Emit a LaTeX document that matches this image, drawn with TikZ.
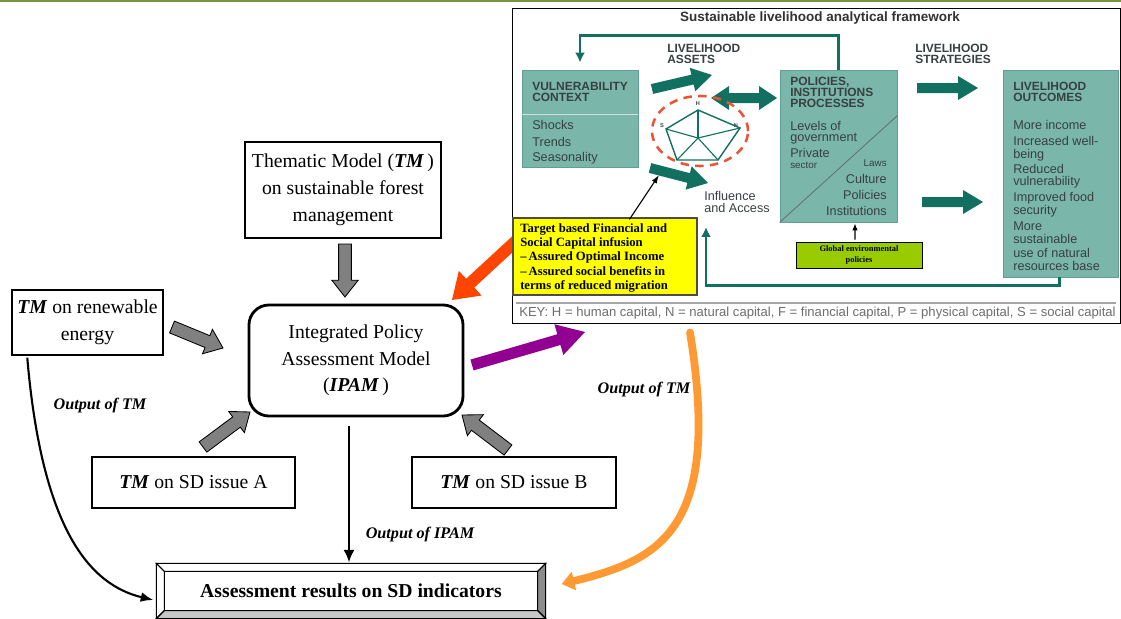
\documentclass[tikz,border=0pt]{standalone}
\usepackage{fontspec}
\setmainfont{Liberation Serif}
\setsansfont{Liberation Sans}
\usetikzlibrary{calc,arrows.meta}

\definecolor{topgreen}{RGB}{119,147,60}
\definecolor{slteal}{RGB}{122,182,170}
\definecolor{slborder}{RGB}{96,160,148}
\definecolor{sldark}{RGB}{18,112,96}
\definecolor{sltext}{RGB}{55,65,65}
\definecolor{slkey}{RGB}{110,110,110}
\definecolor{sldash}{RGB}{232,84,52}
\definecolor{infusionyellow}{RGB}{255,255,0}
\definecolor{globalgreen}{RGB}{153,204,0}
\definecolor{redarrow}{RGB}{255,69,0}
\definecolor{purplearrow}{RGB}{145,0,145}
\definecolor{orangecurve}{RGB}{255,153,51}
\definecolor{arrowgray}{RGB}{128,128,128}

% block arrow: [style]{from}{to}{half shaft}{half head}{head length}
\newcommand{\fatarrow}[6][]{%
  \path ($(#3)!#6!(#2)$) coordinate (faneck);
  \path[#1] ($(#2)!#4!90:(#3)$) -- ($(faneck)!#4!90:(#3)$)
    -- ($(faneck)!#5!90:(#3)$) -- (#3)
    -- ($(faneck)!#5!-90:(#3)$) -- ($(faneck)!#4!-90:(#3)$)
    -- ($(#2)!#4!-90:(#3)$) -- cycle;
}

\newcommand{\mainfs}{\fontsize{14}{19}\selectfont}
\newcommand{\outfs}{\fontsize{11.5}{14}\selectfont\bfseries\itshape}
\newcommand{\slhead}{\sffamily\bfseries\fontsize{8.5}{7.8}\selectfont}
\newcommand{\slbody}{\sffamily\fontsize{9}{10}\selectfont}
\newcommand{\tmb}{\textbf{\textit{TM}}}

\begin{document}
\begin{tikzpicture}[x=0.025cm,y=-0.025cm,>=latex,
  tmbox/.style={draw=black, line width=1pt, fill=white, align=center, font=\mainfs, inner sep=0pt},
  grayarrow/.style={fill=arrowgray, draw=black, line width=0.6pt},
  slbox/.style={fill=slteal, draw=slborder, line width=0.6pt, inner sep=0pt},
  slline/.style={draw=sldark, line width=1.8pt},
  sltxt/.style={font=\slbody, text=sltext, inner sep=0pt},
  slhd/.style={font=\slhead, text=sltext, inner sep=0pt, align=left},
  outlabel/.style={font=\outfs, inner sep=0pt}]

\useasboundingbox (0,0) rectangle (1121,619);

% Top rule
\draw[topgreen, line width=1.6pt] (0,1.2) -- (1121,1.2);

% Red arrow (tail under the framework)
\coordinate (redA) at (530,228);
\coordinate (redB) at (452,300);
\fatarrow[fill=redarrow]{redA}{redB}{0.15cm}{0.42cm}{0.62cm}

% Framework frame
\node[draw=black, fill=white, line width=0.6pt, minimum width=15.2cm, minimum height=7.875cm, inner sep=0pt] (slf) at (816,165.5) {};
\node[font=\sffamily\bfseries\fontsize{9.6}{10}\selectfont, text=black!80, inner sep=0pt] (sltitle) at (820,18) {Sustainable livelihood analytical framework};

% Teal boxes
\node[slbox, minimum width=2.9cm, minimum height=2.425cm] (vuln) at (580,118.5) {};
\node[slbox, minimum width=2.925cm, minimum height=3.8cm] (pol) at (838.5,146) {};
\node[slbox, minimum width=2.875cm, minimum height=5.175cm] (outc) at (1060.5,173.5) {};
\draw[white!60!slteal, line width=0.8pt] ($(vuln.north west)+(0,45)$) -- ($(vuln.north east)+(0,45)$);
\draw[sltext!80, line width=0.5pt] ($(pol.north east)+(0,46)$) -- (pol.south west);

% Headers
\node[slhd, anchor=west] (assets) at (667,54) {LIVELIHOOD\\ASSETS};
\node[slhd, anchor=west] (strat) at (915,54) {LIVELIHOOD\\STRATEGIES};
\node[slhd, anchor=west] (vulnhd) at (532,92) {VULNERABILITY\\CONTEXT};
\node[slhd, anchor=west] (polhd) at (790,92) {POLICIES,\\INSTITUTIONS\\PROCESSES};
\node[slhd, anchor=west] (outhd) at (1013,92) {LIVELIHOOD\\OUTCOMES};

% Box lists
\foreach \txt/\yy in {Shocks/125, Trends/142, Seasonality/158}
  \node[sltxt, anchor=west] (vc\yy) at (532,\yy) {\txt};
\foreach \txt/\yy in {Levels of/126, government/139, Private/153}
  \node[sltxt, anchor=west] (pl\yy) at (790,\yy) {\txt};
\node[sltxt, anchor=west, font=\sffamily\fontsize{7}{8}\selectfont] (pl165) at (790,165) {sector};
\node[sltxt, anchor=east, font=\sffamily\fontsize{7}{8}\selectfont] (pr163) at (887,163) {Laws};
\foreach \txt/\yy in {Culture/179, Policies/195, Institutions/211}
  \node[sltxt, anchor=east] (pr\yy) at (887,\yy) {\txt};
\foreach \txt/\yy in {More income/125, Increased well-/141, being/155, Reduced/169, vulnerability/182, Improved food/198, security/211, More/226, sustainable/239, use of natural/253, resources base/266}
  \node[sltxt, anchor=west] (oc\yy) at (1013,\yy) {\txt};
\node[sltxt, anchor=west, align=left, font=\sffamily\fontsize{9}{8.8}\selectfont] (infl) at (704,202) {Influence\\and Access};

% Feedback lines
\coordinate (inflarrow) at (706,227);
\draw[slline, -{Latex[length=7pt,width=7pt]}] (pol.north) -- ++(0,-34) -| ($(vuln.north)+(0,-7)$);
\draw[slline, -{Latex[length=7pt,width=7pt]}] ($(outc.south west)+(57,0)$) -- ++(0,8) -| (inflarrow);

% Teal block arrows
\coordinate (upA) at (652,89); \coordinate (upB) at (712,75);
\coordinate (dblM) at (744,98); \coordinate (dblL) at (711,98); \coordinate (dblR) at (777,98);
\coordinate (loA) at (650,168); \coordinate (loB) at (708,183);
\coordinate (stA) at (917,88); \coordinate (stB) at (978,88);
\coordinate (snA) at (922,202); \coordinate (snB) at (983,202);
\fatarrow[fill=sldark]{upA}{upB}{0.125cm}{0.3cm}{0.5cm}
\fatarrow[fill=sldark]{dblM}{dblL}{0.125cm}{0.3cm}{0.45cm}
\fatarrow[fill=sldark]{dblM}{dblR}{0.125cm}{0.3cm}{0.45cm}
\fatarrow[fill=sldark]{loA}{loB}{0.125cm}{0.3cm}{0.5cm}
\fatarrow[fill=sldark]{stA}{stB}{0.125cm}{0.3cm}{0.5cm}
\fatarrow[fill=sldark]{snA}{snB}{0.125cm}{0.3cm}{0.5cm}

% Asset pentagon
\draw[sldash, line width=1.8pt, dash pattern=on 6pt off 4.5pt] (700,131) ellipse [x radius=1.2cm, y radius=0.875cm];
\draw[sldark, line width=1pt] (698,110) -- (740,128) -- (718,160) -- (677,160) -- (666,129) -- cycle;
\foreach \p in {(698,110),(740,128),(718,160),(677,160),(666,129)}
  \draw[sldark, line width=0.8pt] (698,138) -- \p;
\node[font=\sffamily\bfseries\fontsize{4}{4}\selectfont, text=sltext, inner sep=0pt] (capH) at (698,104) {H};
\node[font=\sffamily\bfseries\fontsize{4}{4}\selectfont, text=sltext, inner sep=0pt] (capS) at (662,126) {S};
\node[font=\sffamily\bfseries\fontsize{4}{4}\selectfont, text=sltext, inner sep=0pt] (capN) at (736,126) {N};

% Infusion box
\node[draw=black!70, fill=infusionyellow, line width=0.8pt, minimum width=4.6cm, minimum height=1.925cm, inner sep=0pt] (infusion) at (605,256.5) {};
\node[font=\bfseries\fontsize{9}{10}\selectfont, align=left, anchor=west, inner sep=0pt] (infusiontxt) at (520,258) {Target based Financial and\\Social Capital infusion\\--\,Assured Optimal Income\\--\,Assured social benefits in\\terms of reduced migration};
\coordinate (pentF) at (659,175);
\draw[-{Latex[length=6pt,width=4pt]}, line width=0.8pt] ($(infusion.north west)+(117,2)$) -- (pentF);

% Global policies
\node[draw=black, fill=globalgreen, line width=0.6pt, minimum width=3.15cm, minimum height=0.65cm, inner sep=0pt, align=center, font=\bfseries\fontsize{6}{8}\selectfont] (global) at (859,255) {Global environmental\\policies};
\draw[-{Latex[length=5pt,width=4pt]}, line width=0.8pt] ($(global.north)+(-4,-2)$) -- ($(pol.south)+(16.5,1)$);

% Key
\draw[black!35, line width=0.8pt] (516,303) -- (1116,303);
\node[font=\sffamily\fontsize{9.3}{10}\selectfont, text=slkey, anchor=west, inner sep=0pt] (slkeytxt) at (519,313) {KEY: H = human capital, N = natural capital, F = financial capital, P = physical capital, S = social capital};

% Thematic models
\node[tmbox, minimum width=4.9cm, minimum height=2.4cm] (thematic) at (343,190) {Thematic Model (\tmb\,)\\on sustainable forest\\management};
\node[tmbox, minimum width=3.775cm, minimum height=1.625cm] (renew) at (87.5,322.5) {\tmb{} on renewable\\energy};
\node[tmbox, minimum width=5.075cm, minimum height=1.275cm] (sdA) at (193.5,482.5) {\tmb{} on SD issue A};
\node[tmbox, minimum width=5.1cm, minimum height=1.275cm] (sdB) at (514,482.5) {\tmb{} on SD issue B};

% IPAM
\node[draw=black, line width=2pt, rounded corners=0.5cm, minimum width=5.35cm, minimum height=2.775cm, align=center, font=\mainfs, inner sep=0pt] (ipam) at (356,360.5) {Integrated Policy\\Assessment Model\\(\textbf{\textit{IPAM}}\,)};

% Gray arrows
\coordinate (thA) at (345,244); \coordinate (thB) at (345,297);
\coordinate (rnA) at (172,327); \coordinate (rnB) at (223,348);
\coordinate (saA) at (203,447); \coordinate (saB) at (250,412);
\coordinate (sbA) at (508,450); \coordinate (sbB) at (462,415);
\fatarrow[grayarrow]{thA}{thB}{0.16cm}{0.33cm}{0.42cm}
\fatarrow[grayarrow]{rnA}{rnB}{0.16cm}{0.33cm}{0.42cm}
\fatarrow[grayarrow]{saA}{saB}{0.16cm}{0.33cm}{0.42cm}
\fatarrow[grayarrow]{sbA}{sbB}{0.16cm}{0.33cm}{0.42cm}

% Purple arrow
\coordinate (purA) at (472,365); \coordinate (purB) at (585,332);
\fatarrow[fill=purplearrow]{purA}{purB}{0.14cm}{0.4cm}{0.68cm}

% Results box
\node[draw=black, line width=0.8pt, minimum width=9.7cm, minimum height=1.35cm, font=\mainfs\bfseries, inner sep=0pt] (results) at (351,591) {Assessment results on SD indicators};
\coordinate (inw) at ($(results.north west)+(8,8)$);
\coordinate (ine) at ($(results.north east)+(-8,8)$);
\coordinate (ise) at ($(results.south east)+(-8,-8)$);
\coordinate (isw) at ($(results.south west)+(8,-8)$);
\filldraw[fill=white, line width=0.8pt] (results.north west) -- (results.north east) -- (ine) -- (inw) -- cycle;
\filldraw[fill=white, line width=0.8pt] (results.north west) -- (inw) -- (isw) -- (results.south west) -- cycle;
\filldraw[fill=black!45, line width=0.8pt] (results.north east) -- (results.south east) -- (ise) -- (ine) -- cycle;
\filldraw[fill=black!22, line width=0.8pt] (results.south west) -- (isw) -- (ise) -- (results.south east) -- cycle;

% Outputs
\draw[line width=1.8pt, -{Latex[length=9pt,width=8pt]}] ($(ipam.south)+(-7,9)$) -- ($(results.north)+(-2,-1)$);
\draw[line width=1.5pt, -{Latex[length=9pt,width=7pt]}] ($(renew.south west)+(16,2)$) .. controls (42,530) and (90,585) .. ($(results.west)+(-3,9)$);
\draw[orangecurve, line width=5.5pt, line cap=round, -{Triangle[length=9pt,width=13pt]}] ($(slf.south)+(-126,9)$) .. controls (722,530) and (660,560) .. ($(results.east)+(16,-7)$);
\node[outlabel] (outtm) at (100,406) {Output of TM};
\node[outlabel] (outipam) at (420,535) {Output of IPAM};
\node[outlabel] (outtm2) at (644,390) {Output of TM};

\end{tikzpicture}
\end{document}
